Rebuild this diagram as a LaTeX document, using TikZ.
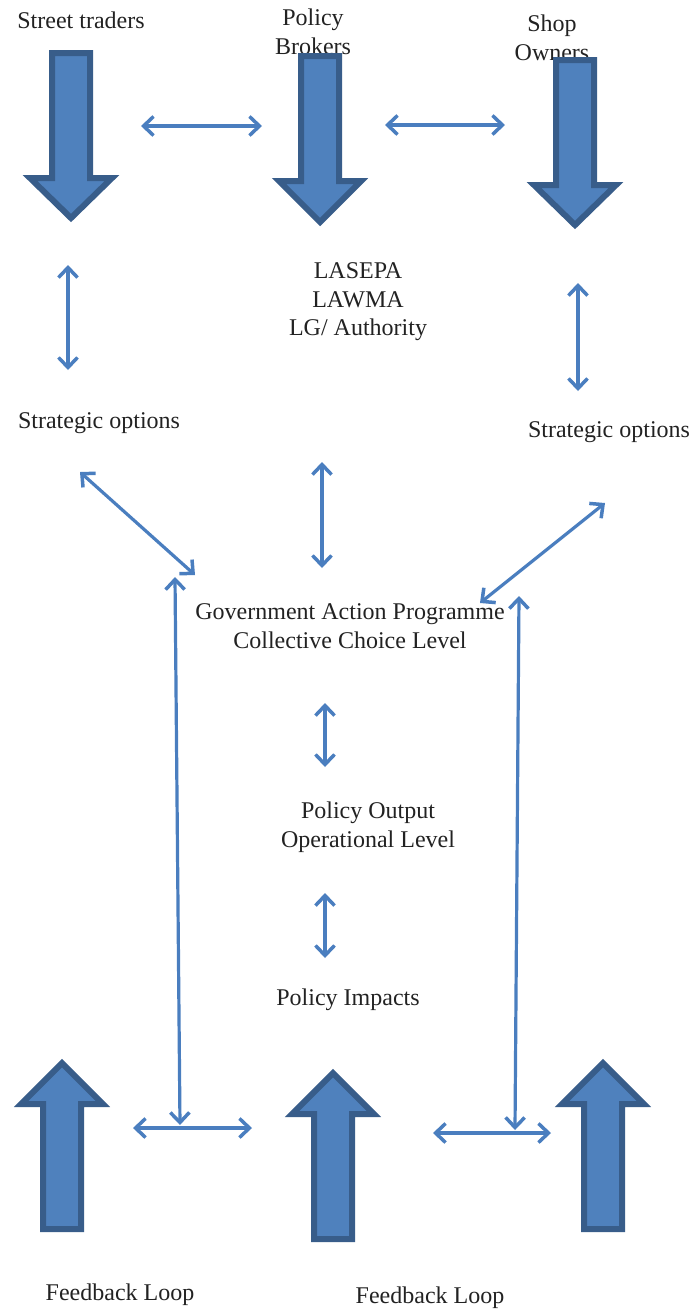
\documentclass[tikz,border=0pt]{standalone}
\usepackage{fontspec}
\setmainfont{Liberation Serif}
\usetikzlibrary{arrows.meta}
\definecolor{blkfill}{HTML}{4F81BD}
\definecolor{blkline}{HTML}{385D8A}
\definecolor{conn}{HTML}{4A7EBF}
\definecolor{txt}{HTML}{222222}
\newcommand\blockdown[6]{\draw[blockshape] ({#1-#5},#2) -- ({#1+#5},#2) -- ({#1+#5},#3) -- ({#1+#6},#3) -- (#1,#4) -- ({#1-#6},#3) -- ({#1-#5},#3) -- cycle;}
\begin{document}
\begin{tikzpicture}[x=1pt,y=-1pt,
  lbl/.style={font=\fontsize{24}{28.5}\selectfont, text=txt, inner sep=0pt, align=center},
  blockshape/.style={fill=blkfill, draw=blkline, line width=6pt, line join=miter},
  link/.style={draw=conn, line width=3.2pt, {Straight Barb[length=10pt,width=19pt,line width=3.5pt]}-{Straight Barb[length=10pt,width=19pt,line width=3.5pt]}}]
\useasboundingbox (0,0) rectangle (694,1310);
% texts
\node[lbl] (st) at (81,20) {Street traders};
\node[lbl] (pb) at (313,32) {Policy\\Brokers};
\node[lbl] (so) at (552,38) {Shop\\Owners};
\node[lbl] (auth) at (358,302) {LASEPA\\LAWMA\\LG/ Authority};
\node[lbl] (sol) at (99,423) {Strategic options};
\node[lbl] (sor) at (609,432) {Strategic options};
\node[lbl] (gov) at (350,626) {Government Action Programme\\Collective Choice Level};
\node[lbl] (out) at (368,827) {Policy Output\\Operational Level};
\node[lbl] (imp) at (348,1000) {Policy Impacts};
\node[lbl] (fb1) at (120,1295) {Feedback Loop};
\node[lbl] (fb2) at (430,1298) {Feedback Loop};
% block arrows (down)
\blockdown{71}{53}{178}{218}{19}{41}
\blockdown{320}{56}{181}{222}{19}{41}
\blockdown{575}{60}{185}{225}{19}{41}
% block arrows (up)
\blockdown{62}{1229}{1104}{1063}{19}{41}
\blockdown{333}{1239}{1114}{1073}{19}{41}
\blockdown{603}{1229}{1104}{1063}{19}{41}
% connector end points
\coordinate (c1a) at (141,126); \coordinate (c1b) at (262,126);
\coordinate (c2a) at (385,125); \coordinate (c2b) at (505,125);
\coordinate (c3a) at (68,265);  \coordinate (c3b) at (68,370);
\coordinate (c4a) at (578,283); \coordinate (c4b) at (578,391);
\coordinate (c5a) at (80,472);  \coordinate (c5b) at (195,575);
\coordinate (c6a) at (322,462); \coordinate (c6b) at (322,568);
\coordinate (c7a) at (605,503); \coordinate (c7b) at (480,603);
\coordinate (c8a) at (175,577); \coordinate (c8b) at (180,1125);
\coordinate (c9a) at (519,596); \coordinate (c9b) at (515,1130);
\coordinate (c10a) at (325,703); \coordinate (c10b) at (325,767);
\coordinate (c11a) at (325,893); \coordinate (c11b) at (325,958);
\coordinate (c12a) at (133,1128); \coordinate (c12b) at (252,1128);
\coordinate (c13a) at (433,1133); \coordinate (c13b) at (551,1133);
% connectors
\draw[link] (c1a) -- (c1b);
\draw[link] (c2a) -- (c2b);
\draw[link] (c3a) -- (c3b);
\draw[link] (c4a) -- (c4b);
\draw[link] (c5a) -- (c5b);
\draw[link] (c6a) -- (c6b);
\draw[link] (c7a) -- (c7b);
\draw[link] (c8a) -- (c8b);
\draw[link] (c9a) -- (c9b);
\draw[link] (c10a) -- (c10b);
\draw[link] (c11a) -- (c11b);
\draw[link] (c12a) -- (c12b);
\draw[link] (c13a) -- (c13b);
\end{tikzpicture}
\end{document}
